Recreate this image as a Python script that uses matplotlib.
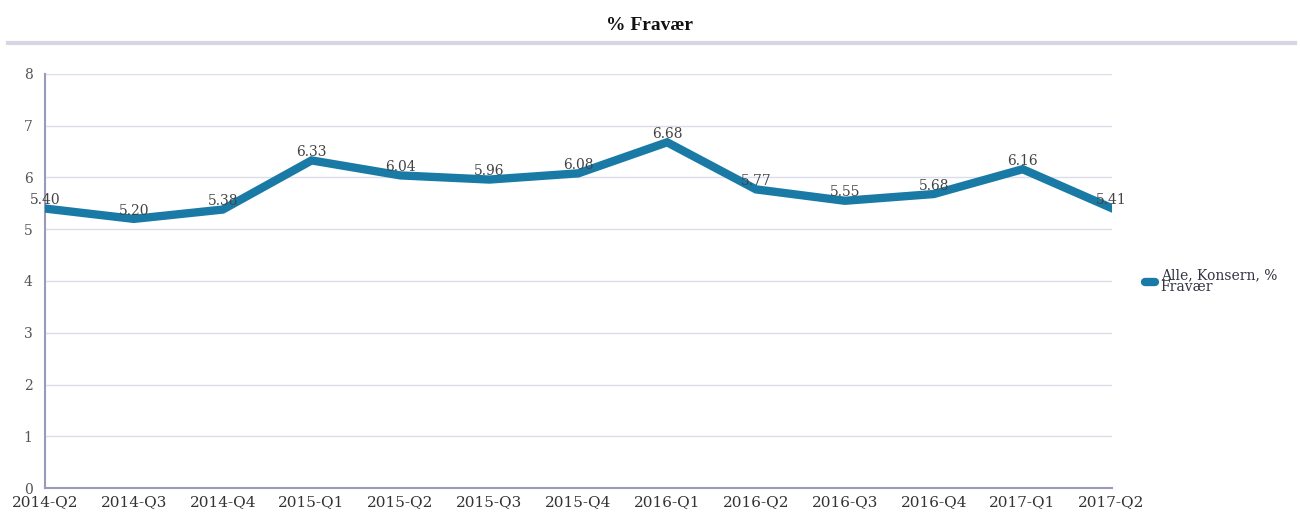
import matplotlib.pyplot as plt
from matplotlib.lines import Line2D

quarters = ['2014-Q2', '2014-Q3', '2014-Q4', '2015-Q1', '2015-Q2', '2015-Q3', '2015-Q4',
            '2016-Q1', '2016-Q2', '2016-Q3', '2016-Q4', '2017-Q1', '2017-Q2']
fravaer = [5.40, 5.20, 5.38, 6.33, 6.04, 5.96, 6.08, 6.68, 5.77, 5.55, 5.68, 6.16, 5.41]
series_name = 'Alle, Konsern, %\nFravær'

line_color = '#1a7aa6'
serif = ['DejaVu Serif']

fig = plt.figure(figsize=(13, 5.13), dpi=100)
ax = fig.add_axes([0.0346, 0.0487, 0.8204, 0.8071])

x = list(range(len(quarters)))
ax.plot(x, fravaer, color=line_color, linewidth=6, solid_joinstyle='miter', zorder=3)
for xi, v in zip(x, fravaer):
    ax.annotate(f'{v:.2f}', (xi, v), xytext=(0, 1), textcoords='offset points',
                ha='center', va='bottom', fontsize=10, color='#444444',
                family=serif, zorder=4)

ax.set_xlim(0, 12)
ax.set_ylim(0, 8)
ax.set_yticks(range(0, 9))
ax.set_xticks(x)
ax.set_xticklabels(quarters, family=serif, fontsize=11, color='#333333')
for lbl in ax.get_yticklabels():
    lbl.set_family(serif)
    lbl.set_fontsize(10)
    lbl.set_color('#555555')
ax.tick_params(axis='both', length=0)
ax.tick_params(axis='y', pad=9)
ax.tick_params(axis='x', pad=5)

ax.grid(axis='y', color='#dcdcea', linewidth=1)
ax.set_axisbelow(True)
for s in ['top', 'right']:
    ax.spines[s].set_visible(False)
for s in ['left', 'bottom']:
    ax.spines[s].set_color('#9a9abb')
    ax.spines[s].set_linewidth(1.5)

fig.text(0.5, 0.95, '% Fravær', ha='center', va='center', fontsize=14,
         fontweight='bold', family=['Liberation Serif'], color='#111111')
fig.add_artist(Line2D([0.006, 0.996], [0.916, 0.916], color='#d6d6e4', linewidth=3))

handle = Line2D([], [], color=line_color, linewidth=6, solid_capstyle='round')
leg = ax.legend([handle], [series_name], loc='center left', bbox_to_anchor=(1.02, 0.5),
                frameon=False, handlelength=0.7, handletextpad=0.4,
                prop={'family': serif, 'size': 10})
for t in leg.get_texts():
    t.set_color('#333344')
    t.set_linespacing(0.75)

fig.savefig('out.png', dpi=100)
